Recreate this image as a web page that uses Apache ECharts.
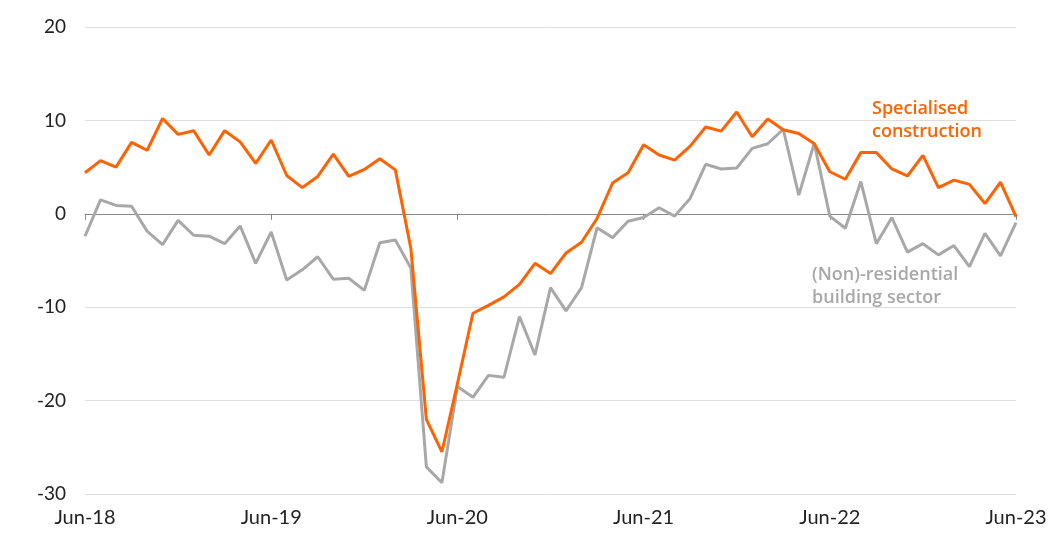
<!DOCTYPE html>
<html><head><meta charset="utf-8">
<script src="https://cdn.jsdelivr.net/npm/echarts@6/dist/echarts.min.js"></script>
<style>html,body{margin:0;padding:0;background:#fff}#c{width:1064px;height:538px}</style>
</head><body><div id="c"></div>
<script>
var categories = ["Jun-18","Jul-18","Aug-18","Sep-18","Oct-18","Nov-18","Dec-18","Jan-19","Feb-19","Mar-19","Apr-19","May-19",
"Jun-19","Jul-19","Aug-19","Sep-19","Oct-19","Nov-19","Dec-19","Jan-20","Feb-20","Mar-20","Apr-20","May-20",
"Jun-20","Jul-20","Aug-20","Sep-20","Oct-20","Nov-20","Dec-20","Jan-21","Feb-21","Mar-21","Apr-21","May-21",
"Jun-21","Jul-21","Aug-21","Sep-21","Oct-21","Nov-21","Dec-21","Jan-22","Feb-22","Mar-22","Apr-22","May-22",
"Jun-22","Jul-22","Aug-22","Sep-22","Oct-22","Nov-22","Dec-22","Jan-23","Feb-23","Mar-23","Apr-23","May-23","Jun-23"];
var specialised = [4.4,5.7,5.0,7.65,6.8,10.2,8.5,8.9,6.3,8.9,7.7,5.4,
7.9,4.1,2.8,4.0,6.4,4.0,4.75,5.9,4.7,-3.7,-22.0,-25.5,
-18.2,-10.65,-9.8,-8.9,-7.55,-5.3,-6.4,-4.2,-3.05,-0.5,3.3,4.4,
7.4,6.3,5.75,7.25,9.3,8.85,10.9,8.25,10.15,9.0,8.6,7.5,
4.5,3.7,6.55,6.55,4.8,4.05,6.25,2.8,3.6,3.15,1.1,3.4,-0.3];
var nonResidential = [-2.4,1.5,0.9,0.8,-1.85,-3.3,-0.7,-2.3,-2.4,-3.2,-1.3,-5.3,
-1.95,-7.1,-6.0,-4.6,-7.0,-6.9,-8.2,-3.1,-2.8,-5.8,-27.1,-28.8,
-18.5,-19.65,-17.3,-17.5,-11.0,-15.1,-7.9,-10.4,-7.9,-1.5,-2.55,-0.8,
-0.4,0.65,-0.25,1.65,5.3,4.8,4.9,7.0,7.5,9.05,2.0,7.55,
-0.25,-1.55,3.45,-3.2,-0.4,-4.1,-3.2,-4.4,-3.4,-5.65,-2.1,-4.5,-0.95];
var yTicks = {min:-30, max:20, interval:10};

var FONT = 'Lato';
var NOTE_FONT = '"Open Sans"';
var chart = echarts.init(document.getElementById('c'));
function yearly(i){ return i % 12 === 0; }
chart.setOption({
  animation:false,
  textStyle:{fontFamily:FONT},
  grid:{left:85, right:48, top:27, bottom:44, containLabel:false},
  xAxis:[{
    type:'category', data:categories, boundaryGap:false,
    axisLine:{onZero:true, lineStyle:{color:'#888888', width:1}},
    axisTick:{show:true, interval:function(i){return yearly(i);}, length:6, lineStyle:{color:'#888888'}},
    axisLabel:{show:false}, splitLine:{show:false}
  },{
    type:'category', data:categories, boundaryGap:false, position:'bottom',
    axisLine:{show:false, onZero:false}, axisTick:{show:false},
    axisLabel:{interval:function(i){return yearly(i);}, color:'#222', fontSize:20, fontFamily:FONT, margin:14},
    splitLine:{show:false}
  }],
  yAxis:{
    type:'value', min:yTicks.min, max:yTicks.max, interval:yTicks.interval,
    axisLine:{show:false}, axisTick:{show:false},
    axisLabel:{color:'#222', fontSize:19, fontFamily:FONT, margin:19},
    splitLine:{lineStyle:{color:'#dedede', width:1}}
  },
  series:[{
    name:'(Non)-residential building sector', type:'line', data:nonResidential, xAxisIndex:0,
    showSymbol:false, lineStyle:{color:'#a8a8a8', width:3}, z:2
  },{
    name:'Specialised construction', type:'line', data:specialised, xAxisIndex:0,
    showSymbol:false, lineStyle:{color:'#ff6200', width:3}, z:3
  }],
  graphic:[{
    type:'text', left:872, top:97,
    style:{text:'Specialised\nconstruction', fill:'#ff6200', font:'600 18px '+NOTE_FONT, lineHeight:23}
  },{
    type:'text', left:812, top:263,
    style:{text:'(Non)-residential\nbuilding sector', fill:'#a8a8a8', font:'600 18px '+NOTE_FONT, lineHeight:23}
  }]
});
</script></body></html>
